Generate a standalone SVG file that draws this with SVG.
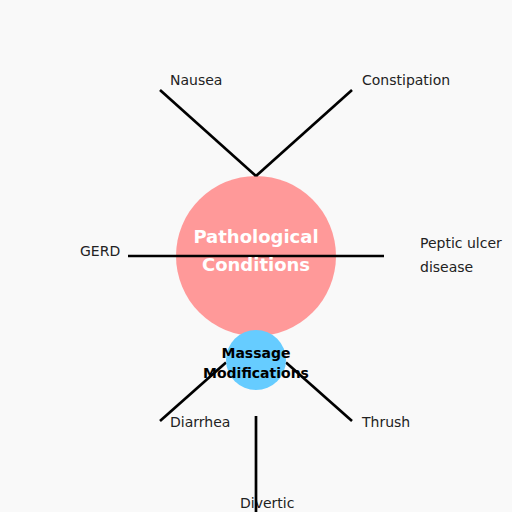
<svg xmlns="http://www.w3.org/2000/svg" width="512" height="512" viewBox="0 0 512 512">
<style>
.lbl{font-family:"DejaVu Sans",sans-serif;font-size:14px;fill:#222}
.ctr{font-family:"DejaVu Sans",sans-serif;font-weight:bold;text-anchor:middle}
.edge{stroke:#000;stroke-width:2.7;fill:none}
</style>
<rect width="512" height="512" fill="#f9f9f9"/>
<g id="node-pathological">
<circle cx="256" cy="256" r="80" fill="#ff9999"/>
</g>
<g id="labels">
<text id="nausea" class="lbl" x="170" y="85">Nausea</text>
<text id="constipation" class="lbl" x="362" y="85">Constipation</text>
<text id="gerd" class="lbl" x="80" y="256">GERD</text>
<text id="peptic" class="lbl" x="420" y="248"><tspan x="420">Peptic ulcer</tspan><tspan x="420" y="272">disease</tspan></text>
<text id="diarrhea" class="lbl" x="170" y="427">Diarrhea</text>
<text id="thrush" class="lbl" x="362" y="427">Thrush</text>
<text id="divertic" class="lbl" x="240" y="508">Divertic</text>
</g>
<g id="connectors">
<line class="edge" x1="256" y1="176" x2="160" y2="90"/>
<line class="edge" x1="256" y1="176" x2="352" y2="90"/>
<line class="edge" x1="128" y1="256" x2="384" y2="256"/>
<line class="edge" x1="226" y1="362.5" x2="160" y2="421"/>
<line class="edge" x1="286" y1="362.5" x2="352" y2="421"/>
<line class="edge" x1="256" y1="416" x2="256" y2="512"/>
</g>
<g id="node-massage">
<circle cx="256" cy="360" r="30" fill="#66ccff"/>
<text class="ctr" x="256" y="358" font-size="14" fill="#000">Massage</text>
<text class="ctr" x="256" y="378" font-size="14" fill="#000">Modifications</text>
</g>
<g id="node-pathological-text">
<text class="ctr" x="256" y="242.5" font-size="18" fill="#fff">Pathological</text>
<text class="ctr" x="256" y="270.5" font-size="18" fill="#fff">Conditions</text>
</g>
</svg>
